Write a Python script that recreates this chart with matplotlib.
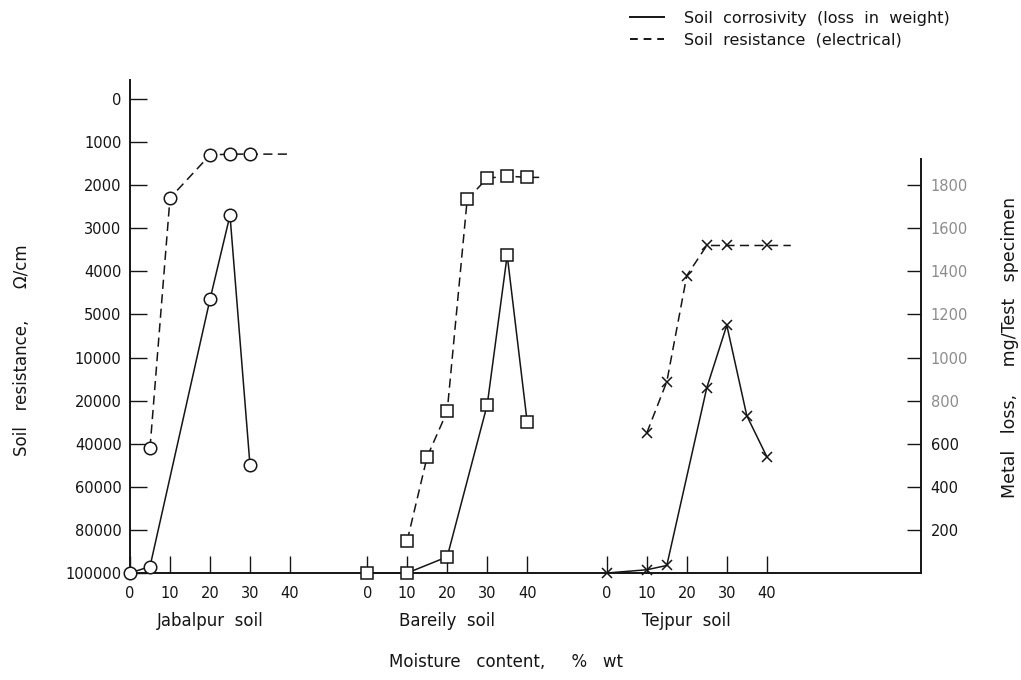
import numpy as np
import matplotlib
matplotlib.use('Agg')
import matplotlib.pyplot as plt
from matplotlib.lines import Line2D

# Left axis labels (evenly spaced on the chart, the scale is not linear)
res_ticks = [0, 1000, 2000, 3000, 4000, 5000, 10000, 20000, 40000, 60000, 80000, 100000]
loss_ticks = [200, 400, 600, 800, 1000, 1200, 1400, 1600, 1800]
moist_ticks = [0, 10, 20, 30, 40]

soils = ['Jabalpur  soil', 'Bareily  soil', 'Tejpur  soil']
soil_offset = [0, 59.3, 119.2]
soil_marker = ['o', 's', 'x']

# Soil resistance (ohm/cm) vs moisture content (% wt)
jab_res_x = [5, 10, 20, 25, 30, 40]
jab_res = [42000, 2300, 1300, 1280, 1280, 1280]
bar_res_x = [10, 15, 20, 25, 30, 35, 40, 43]
bar_res = [85000, 46000, 25000, 2330, 1840, 1790, 1820, 1820]
tej_res_x = [10, 15, 20, 25, 30, 40, 46]
tej_res = [35000, 15600, 4100, 3400, 3400, 3400, 3400]

# Metal loss (mg/test specimen) vs moisture content (% wt)
jab_loss_x = [0, 5, 20, 25, 30]
jab_loss = [0, 30, 1270, 1660, 500]
bar_loss_x = [0, 10, 20, 30, 35, 40]
bar_loss = [0, 0, 75, 780, 1475, 700]
tej_loss_x = [0, 10, 15, 25, 30, 35, 40]
tej_loss = [0, 15, 35, 860, 1150, 730, 540]

res_x = [jab_res_x, bar_res_x, tej_res_x]
res_y = [jab_res, bar_res, tej_res]
loss_x = [jab_loss_x, bar_loss_x, tej_loss_x]
loss_y = [jab_loss, bar_loss, tej_loss]

INK = '#151515'
plt.rcParams['font.family'] = ['DejaVu Sans']
plt.rcParams['text.color'] = INK

# piecewise-linear scale for the resistance axis: tick i sits at depth i
res_arr = np.array(res_ticks, dtype=float)
depth = np.arange(len(res_ticks), dtype=float)
last = depth[-1]


def res_to_depth(r):
    r = np.asarray(r, dtype=float)
    d = np.interp(r, res_arr, depth)
    d = np.where(r < 0, r / 1000.0, d)
    d = np.where(r > 100000, last + (r - 100000) / 20000.0, d)
    return d


def depth_to_res(d):
    d = np.asarray(d, dtype=float)
    r = np.interp(d, depth, res_arr)
    r = np.where(d < 0, d * 1000.0, r)
    r = np.where(d > last, 100000 + (d - last) * 20000.0, r)
    return r


ymax_pos = 11.44          # axis top, in tick steps above the baseline
step_loss = 200.0         # one left-tick step equals 200 mg on the right axis

fig = plt.figure(figsize=(10.21, 6.80), dpi=100)
ax = fig.add_axes([126 / 1021, 107 / 680, 795 / 1021, 493 / 680])
ax.set_yscale('function', functions=(res_to_depth, depth_to_res))
ax.set_ylim(100000, float(depth_to_res(last - ymax_pos)))
ax.set_xlim(-1, 197.75)

axr = ax.twinx()
axr.set_ylim(0, ymax_pos * step_loss)

lw = 1.1
dash = (0, (6, 3.5))

for i in range(3):
    off = soil_offset[i]
    m = soil_marker[i]
    ms = {'o': 9, 's': 8, 'x': 6.5}[m]
    xr = [off + v for v in res_x[i]]
    ax.plot(xr, res_y[i], color=INK, lw=lw, linestyle=dash, marker=m, ms=ms,
            mfc='white', mec=INK, mew=1.1, markevery=list(range(len(xr) - 1)),
            zorder=3, clip_on=False)
    xl = [off + v for v in loss_x[i]]
    axr.plot(xl, loss_y[i], color=INK, lw=lw, marker=m, ms=ms, mfc='white',
             mec=INK, mew=1.1, zorder=3, clip_on=False)
    ax.text(off + 20, -0.097, soils[i], transform=ax.get_xaxis_transform(),
            ha='center', va='center', fontsize=12)

# x ticks: 0..40 repeated for each soil
xt = [off + t for off in soil_offset for t in moist_ticks]
xl_lab = [str(t) for off in soil_offset for t in moist_ticks]
ax.set_xticks(xt)
ax.set_xticklabels(xl_lab)
ax.tick_params(axis='x', direction='in', length=12, width=1.0, pad=9,
               labelsize=10.5, colors=INK)

ax.yaxis.set_major_locator(matplotlib.ticker.FixedLocator(res_ticks))
ax.yaxis.set_minor_locator(matplotlib.ticker.NullLocator())
ax.set_yticklabels([str(v) for v in res_ticks])
ax.tick_params(axis='y', direction='in', length=12, width=1.0, pad=6,
               labelsize=10.5, colors=INK)

axr.set_yticks(loss_ticks)
axr.set_yticklabels([str(v) for v in loss_ticks])
axr.tick_params(axis='y', direction='in', length=10, width=1.0, pad=7,
                labelsize=10.5, colors=INK)
for lab, v in zip(axr.get_yticklabels(), loss_ticks):
    if v >= 800:
        lab.set_color('#8c8c8c')

for s in ['top', 'right']:
    ax.spines[s].set_visible(False)
ax.spines['left'].set_position(('data', 0))
for s in ['left', 'bottom']:
    ax.spines[s].set_linewidth(1.4)
    ax.spines[s].set_color(INK)
for s in ['top', 'left', 'bottom']:
    axr.spines[s].set_visible(False)
axr.spines['right'].set_linewidth(1.4)
axr.spines['right'].set_color(INK)
axr.spines['right'].set_bounds(0, 1920)

fig.text(22 / 1021, 1 - 350 / 680, 'Soil   resistance,      \u03a9/cm', rotation=90,
         ha='center', va='center', fontsize=12)
fig.text(1010 / 1021, 1 - 347 / 680, 'Metal   loss,     mg/Test   specimen',
         rotation=90, ha='center', va='center', fontsize=12.5)
fig.text(506 / 1021, 1 - 662 / 680, 'Moisture   content,     %   wt',
         ha='center', va='center', fontsize=12)

handles = [Line2D([], [], color=INK, lw=1.4),
           Line2D([], [], color=INK, lw=1.4, linestyle=(0, (4, 3)))]
fig.legend(handles, ['Soil  corrosivity  (loss  in  weight)',
                     'Soil  resistance  (electrical)'],
           loc='upper left', bbox_to_anchor=(630 / 1021, 1 - 11 / 680),
           frameon=False, fontsize=11.5, handlelength=2.1, handletextpad=1.3,
           borderpad=0, borderaxespad=0, labelspacing=0.4)

fig.savefig('out.png', dpi=100)
